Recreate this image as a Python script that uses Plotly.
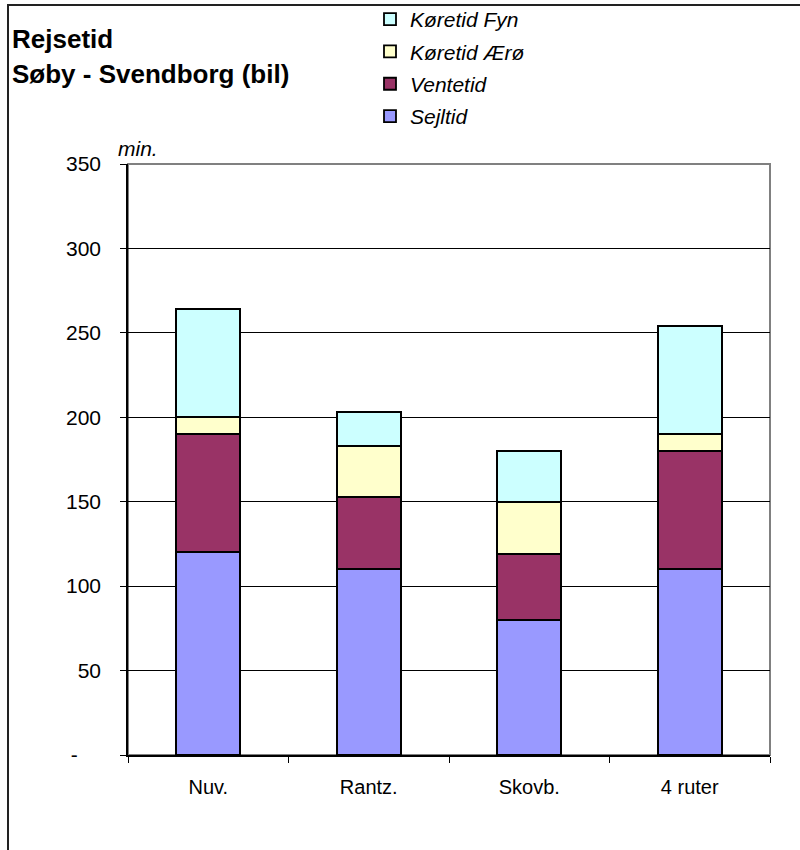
import plotly.graph_objects as go

categories = ["Nuv.", "Rantz.", "Skovb.", "4 ruter"]
sejltid = [120, 110, 80, 110]
ventetid = [70, 43, 39, 70]
koeretid_aeroe = [10, 30, 31, 10]
koeretid_fyn = [64, 20, 30, 64]

series = [
    ("Sejltid", sejltid, "#9999FF", 4),
    ("Ventetid", ventetid, "#993366", 3),
    ("Køretid Ærø", koeretid_aeroe, "#FFFFCC", 2),
    ("Køretid Fyn", koeretid_fyn, "#CCFFFF", 1),
]

y_ticks = [0, 50, 100, 150, 200, 250, 300, 350]
y_tick_labels = ["-\u00a0\u00a0\u00a0\u00a0", "50", "100", "150", "200", "250", "300", "350"]

FONT = "Liberation Sans, Arial, sans-serif"

fig = go.Figure()
for name, vals, color, rank in series:
    fig.add_trace(go.Bar(
        x=categories, y=vals, name=name, legendgroup=name, legendrank=rank,
        marker=dict(color=color, line=dict(color="black", width=1.8)),
        width=0.4,
    ))

L, R, T, B = 128, 30, 164, 95
W, H = 800, 850
pw, ph = W - L - R, H - T - B

def px_x(x):
    return (x - L) / pw

def px_y(y):
    return (H - B - y) / ph

shapes = [
    dict(type="rect", xref="paper", yref="paper", x0=0, x1=1, y0=0, y1=1,
         line=dict(color="#808080", width=2), layer="below"),
    dict(type="line", xref="paper", yref="paper", x0=px_x(8), x1=px_x(8),
         y0=px_y(5), y1=px_y(852), line=dict(color="#222222", width=2)),
    dict(type="line", xref="paper", yref="paper", x0=px_x(7), x1=px_x(802),
         y0=px_y(5), y1=px_y(5), line=dict(color="#222222", width=2)),
]

annotations = [
    dict(text="<b>Rejsetid</b>", x=px_x(10), y=px_y(39), xref="paper", yref="paper",
         xanchor="left", yanchor="middle", showarrow=False,
         font=dict(family=FONT, size=26, color="black")),
    dict(text="<b>Søby - Svendborg (bil)</b>", x=px_x(10), y=px_y(74), xref="paper", yref="paper",
         xanchor="left", yanchor="middle", showarrow=False,
         font=dict(family=FONT, size=26, color="black")),
    dict(text="<i>min.</i>", x=px_x(116), y=px_y(148), xref="paper", yref="paper",
         xanchor="left", yanchor="middle", showarrow=False,
         font=dict(family=FONT, size=21, color="black")),
]

fig.update_layout(
    width=W, height=H,
    margin=dict(l=L, r=R, t=T, b=B, autoexpand=False),
    paper_bgcolor="white", plot_bgcolor="white",
    barmode="stack",
    font=dict(family=FONT, size=21, color="black"),
    showlegend=True,
    legend=dict(
        x=px_x(370), y=px_y(-1), xanchor="left", yanchor="top",
        traceorder="grouped", tracegroupgap=2,
        font=dict(family=FONT, size=21, color="black", style="italic"),
        bgcolor="rgba(0,0,0,0)", itemwidth=30,
    ),
    xaxis=dict(
        type="category", showgrid=False, showline=True, linecolor="black", linewidth=1.5,
        ticks="outside", ticklen=6, tickcolor="black", tickson="boundaries",
        tickfont=dict(size=20), range=[-0.5, 3.5], ticklabelstandoff=13, tickangle=0,
    ),
    yaxis=dict(
        range=[0, 350], tickvals=y_ticks, ticktext=y_tick_labels,
        showgrid=True, gridcolor="black", gridwidth=1,
        showline=True, linecolor="black", linewidth=1.5,
        ticks="outside", ticklen=6, tickcolor="black",
        tickfont=dict(size=21), ticklabelstandoff=15, zeroline=False,
    ),
    shapes=shapes,
    annotations=annotations,
)

fig.write_html(
    "out.html",
    config={"displayModeBar": False},
    post_script="document.body.style.margin='0';document.body.style.overflow='hidden';",
)
